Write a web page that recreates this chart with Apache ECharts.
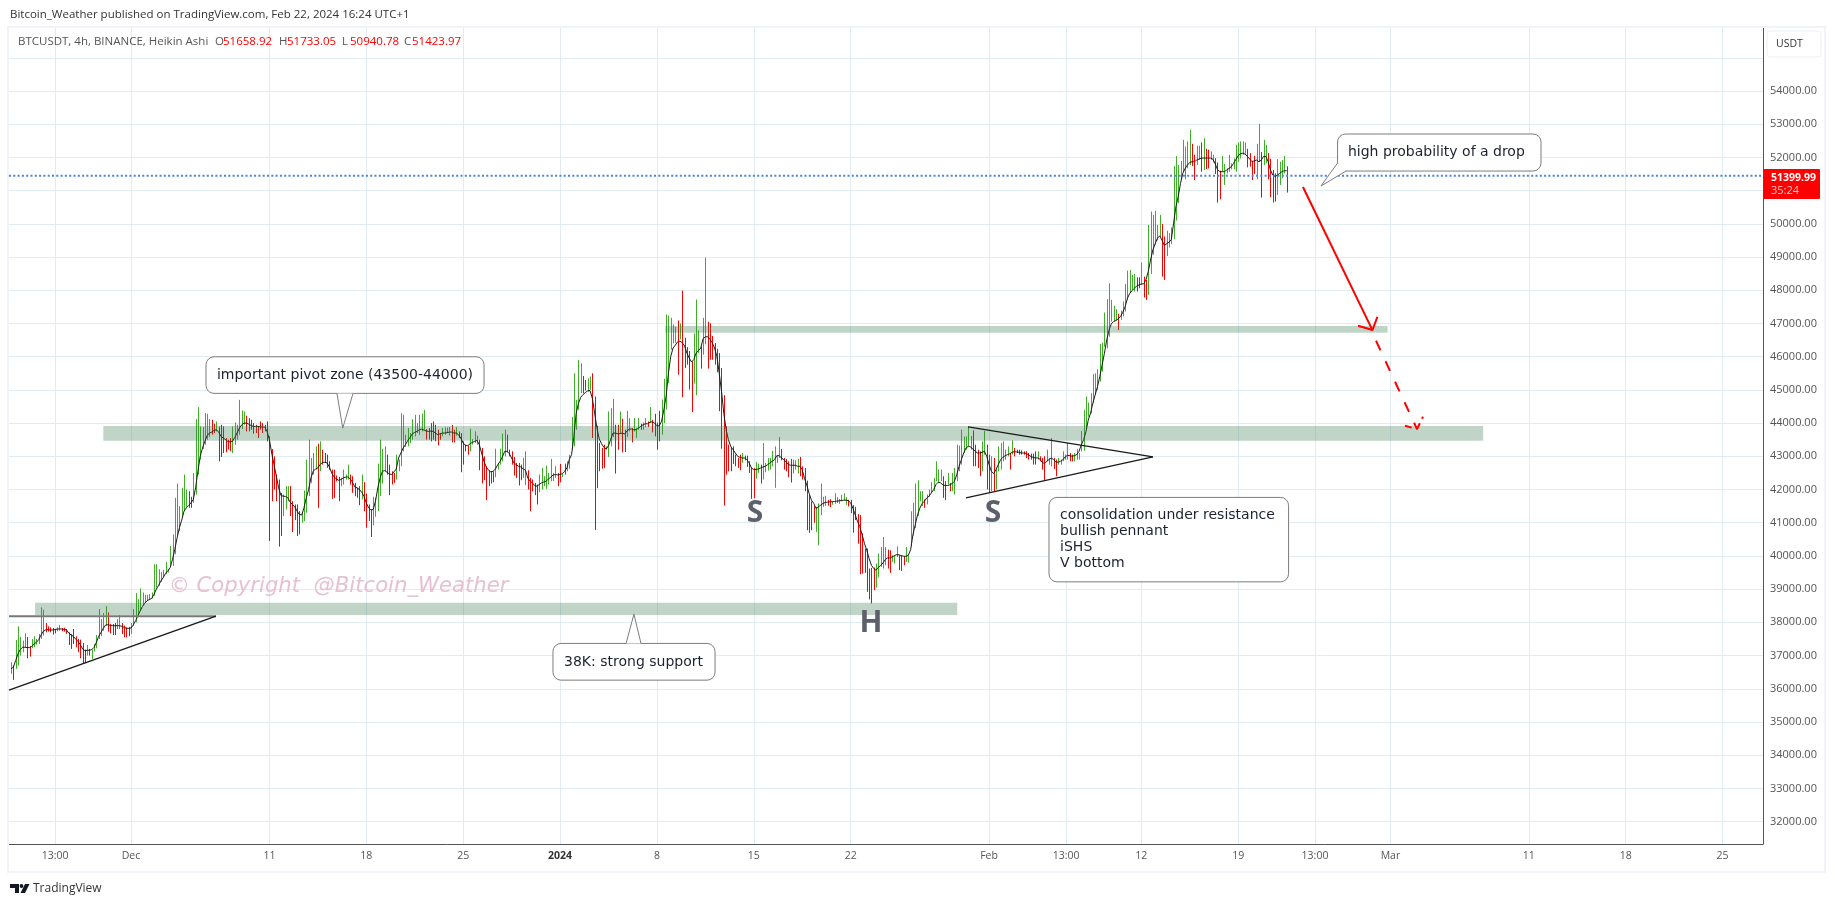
<!DOCTYPE html>
<html><head><meta charset="utf-8"><title>BTCUSDT</title>
<style>html,body{margin:0;padding:0;background:#fff}#c{width:1835px;height:907px}</style>
<script src="https://cdn.jsdelivr.net/npm/echarts@6/dist/echarts.min.js"></script></head><body><div id="c"></div>
<script>
const firstBarDay=-8.667;
const barHigh=[36800,36700,37470,37880,37560,37450,37670,37560,37280,37500,
37580,37500,37650,38450,38380,37980,37880,37850,37830,37800,
37850,37920,37830,37840,37800,37700,37650,37800,37580,37500,
37480,37380,37180,37320,37200,37180,37350,37620,38400,38100,
38280,38490,38300,37950,37950,37980,38100,38220,37980,37900,
37850,37860,37980,38400,38880,38700,39020,38900,38830,38830,
38850,38900,39750,39750,39600,39520,39580,39820,39600,40300,
40650,41750,42180,41500,42050,42450,42000,41950,41780,42500,
44120,44480,43900,43880,44300,44280,44120,44100,43980,44050,
43900,43950,43900,43550,43500,43550,43900,44020,43950,44700,
44380,44350,44220,44150,44100,44000,43950,43900,44050,44000,
43950,44050,43600,43220,43000,42450,42300,41900,41850,42100,
42100,42100,41650,41550,41550,41350,41300,41970,42900,43500,
42950,43100,43300,43380,43450,43200,43100,43050,42850,42600,
42600,42420,42380,42350,42600,42450,42750,42450,42400,42200,
42050,42100,42450,42220,41880,41550,41400,41780,41750,42780,
43500,43220,43300,43050,42750,42550,42500,43050,42900,44300,
44250,43650,43850,43700,44120,44250,44000,44250,44280,44400,
43820,43850,44000,44050,43950,43800,43700,43850,43870,43870,
43880,43940,43800,43880,43750,43700,43450,43350,43320,43830,
43520,43750,43620,43500,43250,43000,42700,42580,42550,42550,
43230,42780,43230,43680,43800,43650,43200,43150,42980,42800,
42800,42750,42950,43150,42580,42350,42300,42200,42150,42450,
42650,42400,42720,42500,42920,42500,42700,42500,42770,42480,
42780,42850,43050,44180,45500,44700,45900,45800,45420,45300,
45350,45400,45500,44800,43920,43400,43250,43350,43300,44350,
44450,44730,43950,43950,44350,44130,43800,44370,44150,43850,
44150,43850,44150,43980,44020,44150,44050,44480,44100,44280,
44020,44370,44710,45330,47270,47240,47170,46970,46900,47090,
47000,47990,46570,46290,46170,45860,46700,47720,46790,46310,
47170,48980,47050,47000,46620,46410,46240,46110,45660,44840,
43900,43350,43250,43300,43050,42950,43050,43100,43020,43020,
42850,42650,42650,42830,42780,42750,43400,42800,42950,42950,
43160,43300,43000,43580,43220,42950,42920,42850,42920,42900,
42880,42920,42980,42700,42650,42270,41840,41640,41500,41480,
41580,42180,41780,41810,41690,41710,41640,41890,41770,41710,
41840,41890,41770,41690,41690,41530,41480,41260,41230,40680,
40220,40220,39620,39640,39650,39770,40070,40270,40570,40270,
40190,40170,40020,40020,40290,40020,40020,39990,40270,40020,
41345,41600,42180,42280,41950,41950,41700,41850,42000,42220,
42350,42850,42600,42600,42400,42250,42500,42200,42500,42650,
43350,43320,43800,43590,43600,43900,43610,43780,43350,43200,
43150,43450,43760,43350,43050,43000,42950,42650,43300,43400,
43450,43200,43300,43100,43480,43250,43200,43200,43180,43150,
43150,43100,43080,43080,43150,43150,43000,42950,43000,43200,
42950,43550,42950,42900,42950,42900,43150,43050,43400,43100,
43050,43100,43220,43100,43760,44395,44800,44620,44900,45480,
45500,45620,46380,46420,47330,47730,48210,47710,47530,47430,
47290,47390,47660,48190,48590,48610,48460,48490,48390,48390,
48840,48410,48310,49970,50370,50270,50390,49970,50270,50000,
49620,49790,49720,49890,51740,52040,51770,51890,52530,52330,
52480,52830,52410,52080,52350,52350,52450,52580,52260,52230,
52180,52080,51980,51850,51600,52040,51800,51670,52080,51820,
51970,52380,52450,52480,52480,52450,52260,52130,51900,52050,
52410,53010,52160,52530,52380,52130,51960,51620,51520,51950,
51870,51920,52040,51733];
const barLow=[36450,36270,36600,36700,37000,37100,37250,36920,36970,37220,
37250,37330,37350,37500,37600,37700,37720,37700,37630,37670,
37730,37750,37730,37720,37650,37320,37200,37350,37250,37100,
36920,36750,36770,37000,37000,36900,37120,37220,37500,37580,
37750,37900,37720,37670,37620,37620,37800,37800,37650,37550,
37550,37580,37650,37900,38000,38200,38350,38500,38600,38650,
38670,38720,38800,39050,39100,39220,39350,39450,39500,39700,
39700,40050,40600,40750,41150,41350,41480,41450,41450,41600,
41850,42450,42900,43220,43350,43500,43580,43650,43700,43750,
42850,42980,43100,43120,43200,43150,43100,43350,43500,43650,
43820,43950,43750,43750,43800,43680,43700,43550,43800,43700,
43750,43450,40450,41650,42000,41650,40280,40600,41200,41400,
41650,41200,40720,41080,40600,40650,41000,41050,41300,41800,
42200,42450,42600,41450,42550,42750,42800,42650,42600,41720,
41750,42250,41650,42100,42150,42300,42300,42150,41900,41800,
41750,41530,41700,41350,40850,41050,40570,40920,41180,41350,
41800,42180,42550,42450,41830,42150,42200,42300,42550,42700,
43150,43280,43300,43400,43500,43600,43700,43650,43750,43800,
43500,43500,43450,43500,43450,43330,43500,43600,43650,43700,
43620,43420,43420,43620,43550,42520,42750,43150,43050,43150,
43350,43400,43350,42580,42180,42280,41680,42100,42180,42220,
42370,42600,42750,42850,43000,43120,43000,42750,42420,42350,
42120,42280,42350,42130,42000,41350,41950,41830,41550,41920,
42000,42100,42020,42150,42250,42250,42350,42100,42220,42380,
42450,42550,42620,43200,43300,43800,44400,44900,44900,44980,
44950,45000,43550,40780,42040,42550,42630,42650,43200,42980,
43300,43580,42480,43200,43700,43120,43130,43580,43750,43420,
43750,43550,43800,43800,43800,43880,43880,44000,43720,43600,
43200,43450,43650,44000,44410,45210,46210,46400,46420,45460,
46520,44780,45660,45760,45010,44330,45190,44840,46110,45640,
46060,46370,45640,45910,45910,45760,45530,44360,43230,41520,
42450,42550,42550,42770,42700,42650,42580,42800,42880,42680,
42500,41720,41740,42330,42500,42180,42300,42520,42570,42600,
42700,42050,42800,42950,42880,42600,42550,42370,42210,42480,
42600,42480,42400,42300,41950,40775,40695,40775,41000,40725,
40320,41230,41480,41510,41510,41470,41540,41570,41590,41570,
41640,41670,41540,41490,41290,40700,41080,40370,39450,39470,
39490,38920,38690,38570,38970,39050,39370,39670,39620,39720,
39620,39490,39820,39770,39970,39570,39550,39720,39820,39800,
40290,40610,40840,41200,41650,41500,41450,41550,41780,41900,
41950,42250,42200,42250,41750,41680,42150,41950,41950,41850,
42250,42550,42750,43100,43200,43300,43200,42700,42700,42650,
42400,42550,43050,42000,41920,41950,41950,42000,42550,42600,
42850,42900,43000,42600,43050,43000,43100,43050,43050,43050,
42950,42900,42900,42750,42750,42900,42850,42600,42280,42850,
42750,42700,42620,42400,42750,42750,42850,42900,42900,42850,
42850,42850,42900,42900,43150,43170,43840,44190,44290,44600,
44850,45000,45250,45550,46300,46250,46600,47060,47060,47090,
46800,47110,47210,47360,47710,47910,48010,47960,47960,48060,
48160,47780,47710,47860,48490,49070,49370,49500,49620,48410,
48310,49030,49290,49390,49540,50100,50620,51320,51570,51340,
51670,51770,51740,51320,51770,51930,51570,51620,51650,51670,
51930,51850,51500,50640,50740,51570,51170,51520,51570,51640,
51640,51570,51870,51970,52080,52110,51700,51720,51320,51500,
51340,51870,50790,51770,51820,51340,50800,50640,50670,50870,
51170,51370,51520,50941];
const barRising=[1,0,1,1,1,1,1,0,0,1, 1,1,1,1,1,0,0,0,0,0, 1,1,0,0,0,0,0,0,0,0, 0,0,0,1,0,1,1,1,1,1,
1,1,0,0,0,0,1,1,0,0, 0,0,1,1,1,1,1,1,1,1, 1,1,1,1,1,1,1,1,1,1, 1,1,1,1,1,1,1,0,0,1,
1,1,1,1,1,1,1,0,0,1, 0,0,0,0,0,0,1,1,1,1, 1,1,0,0,0,0,0,0,0,0, 0,0,0,0,0,0,0,0,1,1,
1,0,0,0,0,0,1,1,1,1, 1,1,1,0,1,0,0,0,0,0, 0,0,0,1,1,1,1,0,0,0, 0,0,1,0,0,0,0,1,1,1,
1,1,1,0,0,0,0,1,1,1, 1,1,1,1,1,1,1,1,1,1, 0,0,0,0,0,0,0,1,1,1, 1,0,0,1,0,0,0,0,0,1,
1,1,1,0,0,0,0,0,0,0, 1,1,1,1,1,0,0,0,0,0, 0,0,1,1,0,0,0,0,0,1, 1,1,1,1,1,1,1,0,0,1,
0,1,1,1,1,1,1,1,0,0, 1,1,0,0,0,0,0,0,1,1, 1,1,0,0,1,0,0,1,1,0, 1,1,1,0,1,1,0,1,0,0,
0,0,1,1,1,1,1,1,1,0, 1,0,0,0,0,0,1,1,1,0, 1,1,0,0,0,0,0,0,0,0, 0,0,0,0,0,0,0,1,0,0,
0,0,0,1,1,0,1,1,1,1, 1,1,1,1,0,0,0,0,0,1, 1,1,0,0,0,0,0,0,0,1, 1,1,1,1,0,0,1,1,1,1,
1,1,1,0,0,0,0,0,0,0, 0,0,0,0,0,1,1,1,1,1, 0,0,1,1,1,0,0,0,1,1, 1,1,1,1,1,1,0,1,1,1,
1,1,1,1,0,0,1,0,1,1, 1,1,1,1,1,1,1,0,0,0, 0,1,1,0,0,1,0,1,1,1, 1,1,1,0,1,0,0,0,0,0,
0,0,0,0,0,1,0,0,0,1, 1,1,0,0,1,1,1,1,1,0, 0,1,1,1,1,1,1,1,1,1, 1,1,1,1,1,1,1,1,1,1,
0,1,1,1,1,1,1,1,0,0, 1,0,0,1,1,1,1,1,1,0, 0,1,1,1,1,1,1,1,1,1, 1,1,0,0,1,1,0,1,0,0,
1,1,0,0,0,1,1,1,1,1, 1,1,1,1,1,1,0,0,0,0, 1,1,0,1,1,0,0,0,0,1, 1,1,1,0];
const maLine=[36600,36650,36850,37050,37180,37250,37250,37240,37240,37280,
37350,37400,37480,37620,37730,37770,37780,37770,37770,37780,
37800,37800,37800,37790,37770,37680,37620,37580,37500,37430,
37330,37200,37150,37160,37160,37180,37250,37400,37580,37700,
37820,37920,37930,37910,37900,37900,37900,37900,37880,37850,
37820,37820,37830,37920,38050,38200,38350,38480,38580,38650,
38690,38720,38850,39000,39120,39250,39350,39480,39550,39650,
39900,40200,40550,40850,41080,41350,41450,41520,41600,41700,
42050,42550,43000,43250,43450,43620,43700,43730,43780,43800,
43730,43600,43550,43500,43450,43430,43450,43570,43700,43850,
43950,44000,44000,43970,43930,43900,43900,43900,43890,43880,
43880,43750,43500,43100,42750,42400,42050,41820,41800,41790,
41750,41620,41550,41480,41350,41250,41230,41450,41750,42000,
42350,42550,42620,42650,42750,42820,42820,42800,42680,42500,
42380,42320,42280,42300,42350,42370,42380,42320,42220,42080,
42050,42000,41920,41800,41600,41450,41380,41400,41650,42050,
42350,42550,42570,42520,42470,42450,42530,42620,42950,43100,
43250,43350,43480,43570,43680,43720,43750,43800,43820,43790,
43760,43750,43760,43750,43700,43650,43680,43700,43700,43710,
43730,43730,43700,43700,43650,43550,43400,43330,43320,43380,
43420,43450,43480,43350,43100,42850,42680,42580,42530,42550,
42620,42750,42850,42980,43150,43150,43080,42950,42800,42750,
42700,42680,42620,42580,42350,42250,42200,42120,42100,42150,
42200,42230,42250,42320,42370,42440,42450,42440,42450,42480,
42550,42650,42900,43050,43600,44300,44600,44780,44860,44920,
44970,44980,44750,44300,43850,43520,43380,43270,43220,43320,
43520,43700,43700,43680,43680,43700,43670,43760,43820,43820,
43800,43800,43850,43900,43950,43980,43980,44030,44040,44000,
43920,43920,44050,44400,44810,45510,46010,46260,46350,46450,
46470,46420,46320,46110,45960,45840,45910,46110,46180,46260,
46540,46600,46600,46520,46420,46260,46010,45510,44960,44300,
43800,43500,43300,43200,43100,43000,42970,42950,42950,42900,
42800,42650,42600,42600,42620,42650,42680,42700,42750,42800,
42850,42900,43020,43020,42950,42900,42830,42750,42730,42730,
42730,42700,42700,42600,42330,42130,41880,41680,41580,41430,
41480,41530,41580,41610,41620,41630,41630,41640,41650,41660,
41670,41680,41680,41660,41600,41430,41230,41030,40880,40630,
40370,40170,39920,39720,39620,39570,39660,39710,39790,39890,
39940,39940,39970,40010,40040,40030,40010,39990,39990,40020,
40190,40640,40940,41240,41440,41580,41650,41750,41800,41900,
42000,42150,42220,42200,42140,42120,42120,42140,42180,42250,
42450,42700,42900,43100,43250,43300,43280,43220,43150,43100,
43100,43120,43150,43000,42750,42550,42480,42600,42750,42900,
42970,43020,43050,43080,43120,43140,43130,43120,43100,43100,
43090,43050,43000,42970,42950,42950,42920,42820,42780,42850,
42900,42950,42900,42830,42820,42850,42900,42980,43030,43020,
43000,43020,43050,43150,43350,43500,43740,44090,44300,44600,
44850,45100,45400,45750,46100,46500,46800,46990,47060,47090,
47140,47210,47340,47510,47760,47910,47990,48060,48130,48160,
48190,48190,48310,48560,48910,49210,49400,49570,49640,49500,
49350,49400,49450,49520,50020,50520,50820,51220,51520,51670,
51770,51850,51870,51870,51920,51950,51980,51980,51980,51980,
51980,51950,51810,51640,51570,51570,51570,51620,51670,51720,
51820,51940,52050,52110,52130,52100,52030,51950,51870,51900,
51920,51870,51920,52030,52030,51870,51620,51470,51420,51470,
51520,51570,51600,51600];
const lastPrice=51445;
const priceGridLines=[32000,33000,34000,35000,36000,37000,38000,39000,40000,41000,42000,43000,44000,45000,46000,47000,48000,49000,50000,51000,52000,53000,54000,55000];
const priceTickLabels=priceGridLines.slice(0,-1);
const tickDays=[-5.49,0,10,17,24,31,38,45,52,62,67.56,73,80,85.55,91,101,108,115];
const tickLabels=['13:00','Dec','11','18','25','2024','8','15','22','Feb','13:00','12','19','13:00','Mar','11','18','25'];
const zones=[[-6.93,59.7,38225,38587],[-2,97.7,43468,43910],[38.6,90.8,46720,46922]];
const flatLine=[[-8.815,38187],[6.14,38187]];
const riseLine=[[-8.815,35958],[6.14,38187]];
const pennantTop=[[60.48,43889],[73.84,42985]];
const pennantBottom=[[60.33,41750],[73.84,42985]];
const arrowSolid=[[84.68,51108],[89.70,46801]];
const arrowSolidHead=[[88.66,46931],[89.70,46801],[90.06,47202]];
const arrowDash=[[89.96,46479],[92.92,43820]];
const arrowDashHead=[[92.05,43919],[92.92,43820],[93.35,44190]];
const labelsSH=[[45.09,41290,'S'],[62.28,41290,'S'],[53.47,37976,'H']];
const watermark=[2.72,39090,'© Copyright  @Bitcoin_Weather'];
const callouts=[
 {lines:['important pivot zone (43500-44000)'],l:5.42,r:25.51,t:45997,b:44895,tail:[[14.88,44895],[15.30,43850],[16.04,44895]],tx:6.21,ty:[45446]},
 {lines:['38K: strong support'],l:30.49,r:42.2,t:37365,b:36260,tail:[[35.77,37365],[36.34,38247],[36.85,37365]],tx:31.29,ty:[36810]},
 {lines:['consolidation under resistance','bullish pennant','iSHS','V bottom'],l:66.33,r:83.64,t:41762,b:39220,tail:null,tx:67.13,ty:[41229,40747,40265,39783]},
 {lines:['high probability of a drop'],l:87.18,r:101.88,t:52705,b:51590,tail:[[87.18,51831],[85.98,51139],[87.79,51590]],tx:87.93,ty:[52163]}
];
const FONT='"Open Sans", sans-serif',NOTE='"DejaVu Sans", sans-serif';
const GREEN='#3fae29',RED='#ff0000';
const barData=barHigh.map((h,i)=>[firstBarDay+i/6,h,barLow[i],barRising[i]]);
const maData=maLine.map((v,i)=>[firstBarDay+i/6,v]);
const line=(data,color,width,type,z)=>({type:'line',data,showSymbol:false,symbol:'none',silent:true,clip:false,z:z||6,animation:false,
 lineStyle:{color,width,type:type||'solid',cap:'butt'}});
const chart=echarts.init(document.getElementById('c'),null,{renderer:'canvas'});
chart.setOption({
 animation:false,backgroundColor:'#fff',
 grid:{left:9,right:72,top:28,bottom:63,containLabel:false},
 tooltip:{show:false},
 xAxis:{type:'value',min:-8.815,max:117.92,
  axisLine:{show:true,onZero:false,lineStyle:{color:'#555',width:1}},
  axisTick:{show:false,customValues:tickDays},
  splitLine:{show:true,lineStyle:{color:'#e1ecf2',width:1}},
  axisLabel:{customValues:tickDays,margin:7,fontFamily:FONT,fontSize:10.5,color:'#555',
   formatter:(v)=>{const k=tickDays.indexOf(v);const t=k<0?'':tickLabels[k];return t==='2024'?'{b|2024}':t;},
   rich:{b:{fontFamily:FONT,fontSize:10.5,fontWeight:'bold',color:'#333'}}}},
 yAxis:{type:'value',position:'right',min:31326,max:55897,scale:false,
  axisLine:{show:true,onZero:false,lineStyle:{color:'#555',width:1}},
  axisTick:{show:false,customValues:priceGridLines},
  splitLine:{show:true,lineStyle:{color:'#e1ecf2',width:1}},
  axisLabel:{customValues:priceTickLabels,margin:7,fontFamily:FONT,fontSize:11,color:'#555',padding:[2,0,0,0],formatter:v=>v.toFixed(2)}},
 series:[
  {type:'custom',name:'bars',data:barData,z:3,silent:true,encode:{x:0,y:[1,2]},
   renderItem:(p,api)=>{const a=api.coord([api.value(0),api.value(1)]),b=api.coord([api.value(0),api.value(2)]);const x=Math.round(a[0])+0.5;
    return {type:'line',shape:{x1:x,y1:a[1],x2:x,y2:b[1]},style:{stroke:api.value(3)?GREEN:RED,lineWidth:1}};}},
  line(maData,'#1c1c1c',1,'solid',4),
  line([[-8.815,lastPrice],[117.92,lastPrice]],'#4a82e4',2,[2,2.3],5),
  {type:'custom',name:'zones',data:zones,z:5,silent:true,encode:{x:[0,1],y:[2,3]},
   renderItem:(p,api)=>{const a=api.coord([api.value(0),api.value(3)]),b=api.coord([api.value(1),api.value(2)]);
    return {type:'rect',shape:{x:a[0],y:a[1],width:b[0]-a[0],height:b[1]-a[1]},style:{fill:'rgba(46,115,70,0.3)'}};}},
  line(flatLine,'#787878',2),line(riseLine,'#1a1a1a',1.4),line(pennantTop,'#1a1a1a',1.3),line(pennantBottom,'#1a1a1a',1.3),
  line(arrowSolid,RED,2),line(arrowSolidHead,RED,2),line(arrowDash,RED,2,[10.6,12]),line(arrowDashHead,RED,2,[7,5]),
  {type:'custom',name:'callouts',data:callouts.map(c=>[c.l,c.t]),z:7,silent:true,clip:false,encode:{x:0,y:1},
   renderItem:(p,api)=>{const c=callouts[p.dataIndex];
    const a=api.coord([c.l,c.t]),b=api.coord([c.r,c.b]);const kids=[
     {type:'rect',shape:{x:a[0],y:a[1],width:b[0]-a[0],height:b[1]-a[1],r:8},style:{fill:'#fff',stroke:'#7d7d7d',lineWidth:1}}];
    if(c.tail){const t=c.tail.map(q=>api.coord(q));
     kids.push({type:'polygon',shape:{points:t},style:{fill:'#fff',stroke:null}});
     kids.push({type:'polyline',shape:{points:t},style:{fill:null,stroke:'#7d7d7d',lineWidth:1}});}
    c.lines.forEach((s,i)=>{const q=api.coord([c.tx,c.ty[i]]);
     kids.push({type:'text',style:{text:s,x:q[0],y:q[1],fill:'#1e2230',font:'14px '+NOTE,align:'left',verticalAlign:'middle'}});});
    return {type:'group',children:kids};}},
  {type:'custom',name:'letters',data:labelsSH.map(q=>[q[0],q[1]]),z:7,silent:true,encode:{x:0,y:1},
   renderItem:(p,api)=>{const q=api.coord([api.value(0),api.value(1)]);
    return {type:'text',style:{text:labelsSH[p.dataIndex][2],x:q[0],y:q[1],fill:'#5d606b',font:'bold 30px '+FONT,align:'center',verticalAlign:'middle'}};}},
  {type:'custom',name:'watermark',data:[watermark.slice(0,2)],z:2,silent:true,encode:{x:0,y:1},
   renderItem:(p,api)=>{const q=api.coord([api.value(0),api.value(1)]);
    return {type:'text',style:{text:watermark[2],x:q[0],y:q[1],fill:'#e6c1d1',font:'italic 21.2px '+NOTE,align:'left',verticalAlign:'middle'}};}}
 ],
 graphic:[
  {type:'rect',z:1,silent:true,shape:{x:8,y:27,width:1817,height:845},style:{fill:null,stroke:'#f0f3fa',lineWidth:2}},
  {type:'text',z:10,x:10,y:15,style:{text:'Bitcoin_Weather published on TradingView.com, Feb 22, 2024 16:24 UTC+1',fill:'#333',font:'11.5px '+FONT,verticalAlign:'middle'}},
  {type:'text',z:10,x:18,y:42,style:{text:'BTCUSDT, 4h, BINANCE, Heikin Ashi',fill:'#555',font:'11.5px '+FONT,verticalAlign:'middle'}},
  ...[[215,'O','51658.92'],[279,'H','51733.05'],[342,'L','50940.78'],[404,'C','51423.97']].flatMap(q=>[
   {type:'text',z:10,x:q[0],y:42,style:{text:q[1],fill:'#555',font:'11.5px '+FONT,verticalAlign:'middle'}},
   {type:'text',z:10,x:q[0]+8,y:42,style:{text:q[2],fill:'#ff0000',font:'11.5px '+FONT,verticalAlign:'middle'}}]),
  {type:'rect',z:10,silent:true,shape:{x:1767,y:31,width:54,height:26,r:3},style:{fill:'#fff',stroke:'#eceff5',lineWidth:1}},
  {type:'text',z:11,x:1776,y:44,style:{text:'USDT',fill:'#333',font:'10.5px '+FONT,verticalAlign:'middle'}},
  {type:'rect',z:10,silent:true,shape:{x:1763.5,y:169,width:56.5,height:30,r:1},style:{fill:'#ff0000'}},
  {type:'text',z:11,x:1771,y:178,style:{text:'51399.99',fill:'#fff',font:'bold 10.5px '+FONT,verticalAlign:'middle'}},
  {type:'text',z:11,x:1771,y:191,style:{text:'35:24',fill:'#ffc4c4',font:'11px '+FONT,verticalAlign:'middle'}},
  {type:'polygon',z:10,silent:true,shape:{points:[[10,884],[19,884],[19,893],[15,893],[15,888],[10,888]]},style:{fill:'#131722'}},
  {type:'circle',z:10,silent:true,shape:{cx:21.5,cy:886,r:1.9},style:{fill:'#131722'}},
  {type:'polygon',z:10,silent:true,shape:{points:[[25,884],[29.5,884],[25,893],[20.5,893]]},style:{fill:'#131722'}},
  {type:'text',z:10,x:33,y:889,style:{text:'TradingView',fill:'#333',font:'12px '+FONT,verticalAlign:'middle'}}
 ]
});
</script></body></html>
